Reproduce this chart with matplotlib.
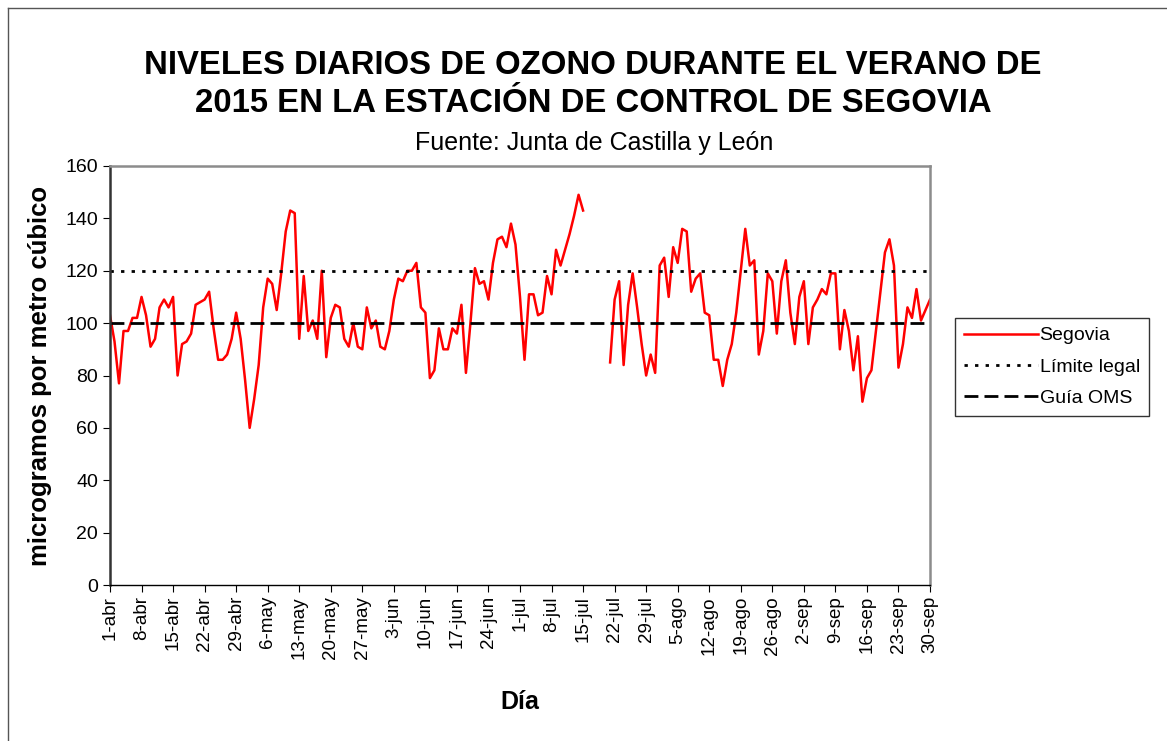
import numpy as np
import pandas as pd
import matplotlib
matplotlib.use('Agg')
import matplotlib.pyplot as plt
from matplotlib.lines import Line2D

plt.rcParams['font.family'] = ['Liberation Sans', 'DejaVu Sans']

# valores diarios de ozono (ug/m3), estacion de Segovia, 2015
abril = [103, 93, 77, 97, 97, 102, 102, 110, 103, 91, 94, 106, 109, 106, 110,
         80, 92, 93, 96, 107, 108, 109, 112, 98, 86, 86, 88, 94, 104, 94]
mayo = [78, 60, 71, 84, 106, 117, 115, 105, 119, 135, 143, 142, 94, 118, 97,
        101, 94, 120, 87, 102, 107, 106, 94, 91, 100, 91, 90, 106, 98, 101, 91]
junio = [90, 97, 109, 117, 116, 120, 120, 123, 106, 104, 79, 82, 98, 90, 90,
         98, 96, 107, 81, 100, 121, 115, 116, 109, 123, 132, 133, 129, 138, 130]
julio = [110, 86, 111, 111, 103, 104, 118, 111, 128, 122, 128, 134, 141, 149, 143,
         np.nan, np.nan, np.nan, np.nan, np.nan,
         85, 109, 116, 84, 107, 119, 106, 92, 80, 88, 81]
agosto = [122, 125, 110, 129, 123, 136, 135, 112, 117, 119, 104, 103, 86, 86, 76,
          86, 92, 104, 120, 136, 122, 124, 88, 97, 119, 116, 96, 116, 124, 104, 92]
septiembre = [110, 116, 92, 106, 109, 113, 111, 119, 119, 90, 105, 97, 82, 95, 70,
              79, 82, 97, 112, 127, 132, 122, 83, 92, 106, 102, 113, 101, 105, 109]

limite_legal = 120
guia_oms = 100
meses = ['ene', 'feb', 'mar', 'abr', 'may', 'jun', 'jul', 'ago', 'sep', 'oct', 'nov', 'dic']

segovia = np.array(abril + mayo + junio + julio + agosto + septiembre, dtype=float)
fechas = pd.date_range('2015-04-01', '2015-09-30', freq='D')
dias = np.arange(len(fechas))

fig = plt.figure(figsize=(11.67, 7.41), dpi=100)
ax = fig.add_axes([110/1167, 1-585/741, 820/1167, 419/741])

ax.plot(dias, segovia, color='#ff0000', linewidth=1.8, label='Segovia')
ax.plot(dias[[0, -1]], [limite_legal]*2, color='black', linewidth=2.0,
        linestyle=(0, (1.2, 2.6)), label='Límite legal')
ax.plot(dias[[0, -1]], [guia_oms]*2, color='black', linewidth=2.0,
        linestyle=(0, (5, 2.2)), label='Guía OMS')

ax.set_xlim(0, len(dias) - 1)
ax.set_ylim(0, 160)
ax.set_yticks(range(0, 161, 20))
ticks = dias[::7]
ax.set_xticks(ticks)
ax.set_xticklabels(['%d-%s' % (fechas[i].day, meses[fechas[i].month - 1]) for i in ticks],
                   rotation=90, fontsize=13.5)
ax.tick_params(axis='y', labelsize=14, direction='out', length=5, color='black')
ax.tick_params(axis='x', direction='out', length=5, color='black', pad=3)

for s in ['top', 'right']:
    ax.spines[s].set_color('#8c8c8c')
    ax.spines[s].set_linewidth(1.8)
ax.spines['left'].set_color('#333333')
ax.spines['left'].set_linewidth(1.8)
ax.spines['bottom'].set_color('black')
ax.spines['bottom'].set_linewidth(1.0)

ax.set_ylabel('microgramos por metro cúbico', fontsize=18.5, fontweight='bold', labelpad=10)
ax.set_xlabel('Día', fontsize=18, fontweight='bold', labelpad=22)

fig.text(593/1167, 1-65/741, 'NIVELES DIARIOS DE OZONO DURANTE EL VERANO DE',
         ha='center', va='center', fontsize=23.7, fontweight='bold')
fig.text(593/1167, 1-104/741, '2015 EN LA ESTACIÓN DE CONTROL DE SEGOVIA',
         ha='center', va='center', fontsize=23.7, fontweight='bold')
fig.text(594/1167, 1-143/741, 'Fuente: Junta de Castilla y León',
         ha='center', va='center', fontsize=18)

leg = fig.legend(loc='upper left', bbox_to_anchor=(955/1167, 1-318/741),
                 fontsize=14, handlelength=3.8, frameon=True, fancybox=False,
                 borderpad=0.45, labelspacing=0.7, handletextpad=0.1, borderaxespad=0)
leg.get_frame().set_edgecolor('black')
leg.get_frame().set_linewidth(1.0)

# borde del grafico
fig.add_artist(Line2D([8/1167, 8/1167], [0, 1-8/741], color='#555555', linewidth=1.0))
fig.add_artist(Line2D([8/1167, 1], [1-8/741, 1-8/741], color='#555555', linewidth=1.0))

plt.savefig('out.png', dpi=100)
